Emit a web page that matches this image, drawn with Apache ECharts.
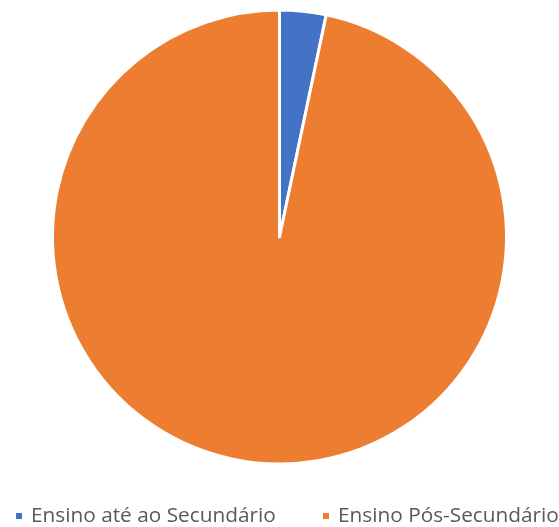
<!DOCTYPE html>
<html>
<head>
<meta charset="utf-8">
<style>
  html, body { margin: 0; padding: 0; background: #ffffff; }
  #chart { width: 559px; height: 527px; }
</style>
<script src="https://cdn.jsdelivr.net/npm/echarts@6/dist/echarts.min.js"></script>
</head>
<body>
<div id="chart"></div>
<script>
// Distribuição por nível de ensino (%)
const categories = ['Ensino até ao Secundário', 'Ensino Pós-Secundário'];
const values = [3.3, 96.7];
const colors = ['#4472C4', '#ED7D31'];

const legendLeft = [14, 321];
const legendText = {
  fontFamily: 'Open Sans',
  fontSize: 20.8,
  lineHeight: 22,
  color: '#595959',
  padding: [0, 0, 0, 3]
};

const chart = echarts.init(document.getElementById('chart'));
chart.setOption({
  animation: false,
  color: colors,
  legend: categories.map((name, i) => ({
    data: [name],
    left: legendLeft[i],
    top: 505,
    padding: 0,
    icon: 'rect',
    itemWidth: 8,
    itemHeight: 8,
    selectedMode: false,
    textStyle: legendText
  })),
  series: [{
    type: 'pie',
    center: [279.5, 237],
    radius: [0, 227],
    startAngle: 90,
    clockwise: true,
    label: { show: false },
    labelLine: { show: false },
    itemStyle: { borderColor: '#ffffff', borderWidth: 3 },
    data: categories.map((name, i) => ({ name, value: values[i] }))
  }]
});
</script>
</body>
</html>
